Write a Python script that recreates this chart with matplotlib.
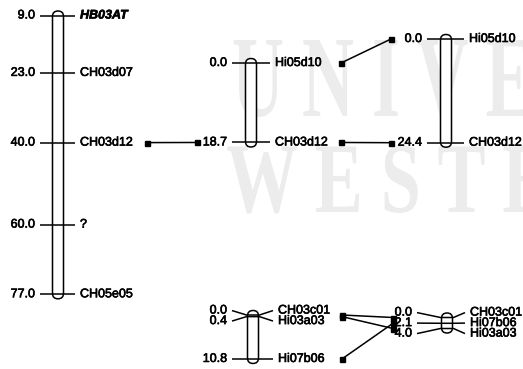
import numpy as np
import matplotlib
matplotlib.use("Agg")
import matplotlib.pyplot as plt
import matplotlib.patheffects as pe
from matplotlib.patches import FancyBboxPatch, PathPatch
from matplotlib.textpath import TextPath
from matplotlib.font_manager import FontProperties
from matplotlib.transforms import Affine2D

# linkage groups: map positions (cM) and marker names
lg1_pos = [9.0, 23.0, 40.0, 60.0, 77.0]
lg1_names = ["HB03AT", "CH03d07", "CH03d12", "?", "CH05e05"]
lg2_pos = [0.0, 18.7]
lg2_names = ["Hi05d10", "CH03d12"]
lg3_pos = [0.0, 24.4]
lg3_names = ["Hi05d10", "CH03d12"]
lg4_pos = [0.0, 0.4, 10.8]
lg4_names = ["CH03c01", "Hi03a03", "Hi07b06"]
lg5_pos = [0.0, 2.1, 4.0]
lg5_names = ["CH03c01", "Hi07b06", "Hi03a03"]

# common markers between groups: (from group, to group, marker)
links = [
    (0, 1, "CH03d12"),
    (1, 2, "Hi05d10"),
    (1, 2, "CH03d12"),
    (3, 4, "CH03c01"),
    (3, 4, "Hi03a03"),
    (3, 4, "Hi07b06"),
]

groups = [(lg1_pos, lg1_names), (lg2_pos, lg2_names), (lg3_pos, lg3_names),
          (lg4_pos, lg4_names), (lg5_pos, lg5_names)]

# layout (pixels): centre x, y of first marker, px per cM, tick reach left/right
layout = [
    (58, 15.5, 4.1, 18, 17),
    (251, 63, 4.25, 19, 19),
    (446, 39, 4.25, 19, 18),
    (253, 315, 4.07, 21, 20),
    (447, 317.5, 2.75, 30, 18),
]
link_x = {(0, 1): (147, 197), (1, 2): (341, 391), (3, 4): (342, 393)}

BAR_W = 11
GAP = 10.5
FONT = "Liberation Sans"
FS = 9
# scanned print looks a bit heavier than plain regular text
heavy = [pe.withStroke(linewidth=0.45, foreground="black")]


def spread(ym, gap):
    # push overlapping labels apart, then centre each pushed cluster on its markers
    yl = list(ym)
    for i in range(1, len(yl)):
        yl[i] = max(yl[i], yl[i - 1] + gap)
    clusters, cur = [], [0]
    for i in range(1, len(yl)):
        if abs(yl[i] - (yl[i - 1] + gap)) < 1e-6:
            cur.append(i)
        else:
            clusters.append(cur)
            cur = [i]
    clusters.append(cur)
    for c in clusters:
        shift = np.mean([ym[i] for i in c]) - np.mean([yl[i] for i in c])
        for i in c:
            yl[i] += shift
    return yl


fig = plt.figure(figsize=(5.23, 3.69), dpi=100)
ax = fig.add_axes([0, 0, 1, 1])
ax.set_xlim(0, 523)
ax.set_ylim(369, 0)
ax.axis("off")

# faint scanned watermark behind the maps
wm_prop = FontProperties(family="Liberation Serif", weight="bold")
for word, x0, base, sx, sy in [("U N I V E R S", 232, 116, 72, 116),
                               ("W E S T E R N", 226, 212, 72, 100)]:
    tp = TextPath((0, 0), word, size=1, prop=wm_prop)
    tr = Affine2D().scale(sx, -sy).translate(x0, base) + ax.transData
    ax.add_patch(PathPatch(tp, transform=tr, facecolor="#ececec",
                           edgecolor="none", zorder=0))

marker_y = {}
for g, ((pos, names), (cx, y0, scale, rl, rr)) in enumerate(zip(groups, layout)):
    ym = [y0 + (p - pos[0]) * scale for p in pos]
    yl = spread(ym, GAP)
    top = ym[0] - 4.5
    bar = FancyBboxPatch((cx - BAR_W / 2, top), BAR_W, ym[-1] + 4.5 - top,
                         boxstyle="round,pad=0,rounding_size=%.1f" % (BAR_W / 2),
                         facecolor="white", edgecolor="black", lw=1.1, zorder=2)
    ax.add_patch(bar)
    for i, (p, n) in enumerate(zip(pos, names)):
        ax.plot([cx - rl, cx - BAR_W / 2 - 1, cx + BAR_W / 2 + 1, cx + rr],
                [yl[i], ym[i], ym[i], yl[i]], color="black", lw=1.1,
                solid_capstyle="butt", zorder=3)
        ax.text(cx - rl - 5, yl[i], "%.1f" % p, ha="right", va="center",
                fontsize=FS, family=FONT, color="black", path_effects=heavy)
        special = n == "HB03AT"
        ax.text(cx + rr + 5, yl[i], n, ha="left", va="center",
                fontsize=FS, family=FONT, color="black",
                weight="bold" if special else "normal",
                style="italic" if special else "normal", path_effects=heavy)
        marker_y[(g, n)] = ym[i]

for a, b, name in links:
    xa, xb = link_x[(a, b)]
    ax.plot([xa, xb], [marker_y[(a, name)], marker_y[(b, name)]], color="black",
            lw=1.1, marker="s", ms=3.6, zorder=3)

fig.savefig("out.png", dpi=100)
